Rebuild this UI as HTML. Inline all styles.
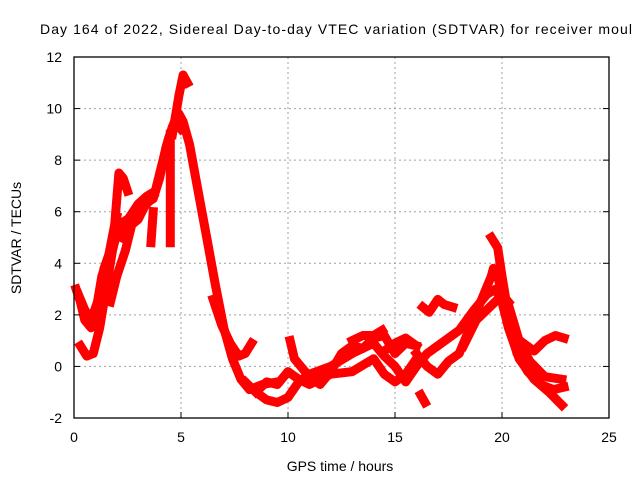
<!DOCTYPE html>
<html><head><meta charset="utf-8"><style>
html,body{margin:0;padding:0;background:#fff}
svg{display:block;font-family:"Liberation Sans",sans-serif}
</style></head><body>
<svg id="chart" width="640" height="480">
<rect width="640" height="480" fill="#fff"/>
<text x="40" y="34" font-size="14" textLength="592">Day 164 of 2022, Sidereal Day-to-day VTEC variation (SDTVAR) for receiver moul</text>
<g id="grid"></g>
<g id="series"></g>
<rect x="74" y="57" width="535" height="361" fill="none" stroke="#000" stroke-width="1.3"/>
<g id="ticks"></g>
<text x="340" y="471" font-size="14" text-anchor="middle">GPS time / hours</text>
<text transform="translate(21,238) rotate(-90)" font-size="14" text-anchor="middle">SDTVAR / TECUs</text>
</svg>
<script>
const xTicks = [0,5,10,15,20,25];
const yTicks = [-2,0,2,4,6,8,10,12];
const trackA = [[0.3,0.8],[0.6,0.4],[0.9,0.5],[1.2,1.5],[1.5,3],[1.8,4.5],[2.1,5.5],[2.5,5.7],[2.9,5.9],[3.3,6.3],[3.7,6.5],[4.0,7.3],[4.3,8.5],[4.6,9.3],[4.9,9.8],[5.1,9.5],[5.4,8.6],[5.8,6.8],[6.2,5],[6.6,3.2],[7.0,1.5],[7.4,0.3],[7.8,-0.5],[8.2,-0.9],[8.8,-0.7],[9.5,-0.6]];
const trackB = [[0.1,3.0],[0.3,2.5],[0.5,1.8],[0.8,1.5],[1.0,2.0],[1.3,3.5],[1.6,4.2],[1.9,5.5],[2.1,7.5],[2.3,7.3],[2.5,6.8]];
const trackC = [[1.7,2.5],[2.0,3.5],[2.4,4.5],[2.7,5.5],[3.0,5.7],[3.3,6.2],[3.7,6.6]];
const trackC2 = [[2.2,5.0],[2.6,5.8],[3.0,6.3],[3.4,6.6],[3.8,6.8],[4.1,7.8],[4.4,8.8],[4.7,9.5],[5.0,9.2]];
const trackD = [[4.6,9.0],[4.9,10.5],[5.1,11.3],[5.3,11.0]];
const spike1 = [[4.5,9.0],[4.5,4.8]];
const spike2 = [[3.7,6.0],[3.6,4.8]];
const trackE = [[6.5,2.6],[6.9,1.6],[7.3,0.9],[7.7,0.4],[8.0,0.5],[8.3,0.9]];
const trackF = [[8,-0.6],[8.5,-1.0],[9,-1.3],[9.5,-1.4],[10,-1.2],[10.5,-0.6],[11,-0.3],[12,0],[13,0.5],[14,0.9],[14.5,0.4],[15,0],[15.5,-0.6],[16,0],[16.5,0.5],[17,0.8],[18,1.4],[18.7,2.2],[19.3,2.8],[19.7,3.0],[20,2.5],[20.3,1.5],[20.8,0.3],[21.5,-0.5],[22.2,-1.0],[22.8,-1.5]];
const trackG = [[10.1,1.0],[10.3,0.3],[10.6,0],[11,-0.4],[11.5,-0.7],[12,-0.2],[12.5,0.5],[13,0.8],[13.5,0.7],[14,1.1],[14.5,1.2],[15,0.5],[15.5,0.9],[16,0.8]];
const trackH = [[8.5,-1.0],[9,-0.6],[9.5,-0.7],[10,-0.2],[10.5,-0.5],[11,-0.7],[12,-0.3],[13,-0.2],[14,0.3],[14.5,-0.3],[15,-0.6],[15.5,-0.3],[16,0.3]];
const trackI = [[16,0.5],[16.5,0.0],[17,-0.3],[17.5,0.2],[18,0.5],[18.5,1.5],[19,2.5],[19.5,3.5],[19.6,3.8],[19.8,3.5],[20.0,2.8],[20.3,2.5]];
const trackJ = [[19.5,5.0],[19.8,4.6],[20,3.5],[20.3,2.0],[20.7,0.5],[21.2,-0.2],[21.8,-0.7],[22.4,-0.9],[22.9,-0.8]];
const trackK = [[16.3,2.3],[16.6,2.1],[17,2.6],[17.3,2.4],[17.7,2.3]];
const trackL = [[21,0.9],[21.5,0.6],[22,1.0],[22.5,1.2],[22.9,1.1]];
const trackM = [[13,1.0],[13.5,1.2],[14,1.2],[14.4,1.4]];
const trackN = [[14.5,0.6],[15,0.9],[15.5,1.1],[16,0.8]];
const trackO = [[16.2,-1.1],[16.4,-1.4]];
const trackP = [[18.2,0.8],[18.8,1.8],[19.3,2.2],[19.8,2.6],[20.3,2.4],[20.8,1.0],[21.3,0.2],[22,-0.4],[22.8,-0.5]];
const trackQ = [[0.2,2.8],[0.5,2.2],[0.8,1.8],[1.1,2.5],[1.4,3.8],[1.7,4.5],[2.0,5.8]];
const allTracks = [trackA,trackB,trackC,trackC2,trackD,spike1,spike2,trackE,trackF,trackG,trackH,trackI,trackJ,trackK,trackL,trackM,trackN,trackO,trackP,trackQ];

const X0=74,X1=609,Y0=418,Y1=57;
const xs = v => X0 + (v-0)/(25-0)*(X1-X0);
const ys = v => Y0 - (v-(-2))/(12-(-2))*(Y0-Y1);
const NS='http://www.w3.org/2000/svg';
const grid=document.getElementById('grid'), ticks=document.getElementById('ticks'), ser=document.getElementById('series');
function mk(tag,attrs,parent){const e=document.createElementNS(NS,tag);for(const k in attrs)e.setAttribute(k,attrs[k]);parent.appendChild(e);return e;}
xTicks.forEach(t=>{
  const x=xs(t);
  if(t>0&&t<25){
    const g=mk('line',{x1:x,x2:x,y1:Y1,y2:Y0,stroke:'#a0a0a0','stroke-dasharray':'2,3'},grid);
    
    
  }
  const tk=mk('line',{x1:x,x2:x,y1:Y0,y2:Y0-6,stroke:'#000'},ticks);
  
  
  const tx=mk('text',{x:x,y:Y0+24,'font-size':14,'text-anchor':'middle'},ticks);
  tx.textContent=t;
  
  
});
yTicks.forEach(t=>{
  const y=ys(t);
  if(t>-2&&t<12){
    const g=mk('line',{x1:X0,x2:X1,y1:y,y2:y,stroke:'#a0a0a0','stroke-dasharray':'2,3'},grid);
    
    
  }
  const tk=mk('line',{x1:X0,x2:X0+6,y1:y,y2:y,stroke:'#000'},ticks);
  
  
  const tk2=mk('line',{x1:X1,x2:X1-6,y1:y,y2:y,stroke:'#000'},ticks);
  
  
  const tx=mk('text',{x:X0-12,y:y+5,'font-size':14,'text-anchor':'end'},ticks);
  tx.textContent=t;
  
  
});
allTracks.forEach(tr=>{
  const pts=tr.map(p=>xs(p[0]).toFixed(1)+','+ys(p[1]).toFixed(1)).join(' ');
  const pl=mk('polyline',{points:pts,fill:'none',stroke:'#ff0000','stroke-width':9,'stroke-linejoin':'round','stroke-linecap':'square'},ser);
  
  
});
</script>
</body></html>
